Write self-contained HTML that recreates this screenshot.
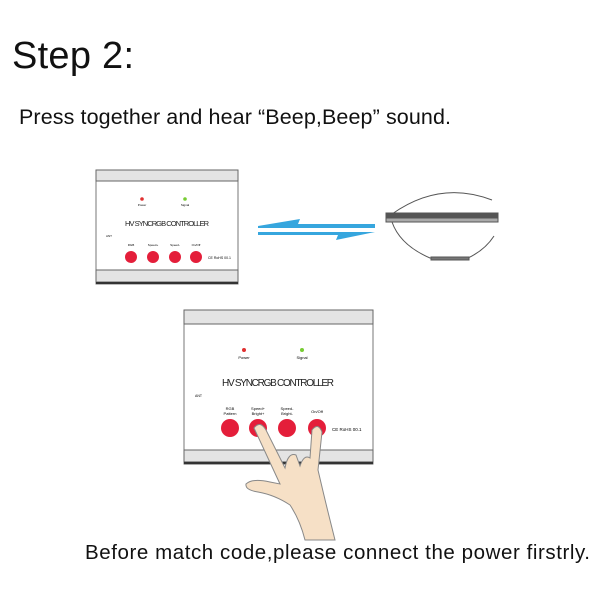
<!DOCTYPE html><html><head><style>body{margin:0;background:#fff}svg{display:block}</style></head><body>
<svg width="600" height="600" viewBox="0 0 600 600" xmlns="http://www.w3.org/2000/svg" font-family="Liberation Sans, sans-serif">
<rect width="600" height="600" fill="#fff"/>
<text x="12" y="68" font-size="38" fill="#111" textLength="122">Step 2:</text>
<text x="19" y="124" font-size="21.5" fill="#111" textLength="432">Press together and hear “Beep,Beep” sound.</text>
<g>
<rect x="96" y="170" width="142" height="114" fill="#fff" stroke="#777" stroke-width="1"/>
<rect x="96" y="170" width="142" height="11" fill="#e4e4e4" stroke="#666"/>
<rect x="96" y="270" width="142" height="12" fill="#e4e4e4" stroke="#666"/>
<line x1="96" y1="283" x2="238" y2="283" stroke="#333" stroke-width="2"/>
<circle cx="142" cy="199" r="1.8" fill="#e03030"/><circle cx="185" cy="199" r="1.8" fill="#7c3"/>
<text x="142" y="206" font-size="3" text-anchor="middle">Power</text><text x="185" y="206" font-size="3" text-anchor="middle">Signal</text>
<text x="125" y="226" font-size="7.5" fill="#222" textLength="84">HV SYNCRGB CONTROLLER</text>
<text x="106" y="237" font-size="3">ANT</text>
<g font-size="3" text-anchor="middle"><text x="131" y="246">RGB</text><text x="153" y="246">Speed+</text><text x="175" y="246">Speed-</text><text x="196" y="246">On/Off</text></g>
<g fill="#e41e3a"><circle cx="131" cy="257" r="6"/><circle cx="153" cy="257" r="6"/><circle cx="175" cy="257" r="6"/><circle cx="196" cy="257" r="6"/></g>
<text x="208" y="259" font-size="3.5">CE RoHS 00.1</text>
</g>
<g fill="#36a6de">
<polygon points="258,226 300,219 298,224 375,224 375,228 258,228"/>
<polygon points="258,232 375,232 336,240 338,235 258,235"/>
</g>
<g stroke="#555" fill="none">
<path d="M392,214 Q440,180 492,200" stroke-width="1"/>
<path d="M392,222 Q400,245 430,258 L468,258 Q485,250 494,236" stroke-width="1"/>
<rect x="386" y="213" width="112" height="5" fill="#555"/>
<rect x="386" y="218" width="112" height="4" fill="#aaa"/>
<rect x="431" y="257" width="38" height="3" fill="#777"/>
</g>
<g>
<rect x="184" y="310" width="189" height="154" fill="#fff" stroke="#777"/>
<rect x="184" y="310" width="189" height="14" fill="#e4e4e4" stroke="#666"/>
<rect x="184" y="450" width="189" height="12" fill="#e4e4e4" stroke="#666"/>
<line x1="184" y1="463" x2="373" y2="463" stroke="#333" stroke-width="2.5"/>
<circle cx="244" cy="350" r="2" fill="#e03030"/><circle cx="302" cy="350" r="2" fill="#7c3"/>
<text x="244" y="359" font-size="4" text-anchor="middle">Power</text><text x="302" y="359" font-size="4" text-anchor="middle">Signal</text>
<text x="222" y="386" font-size="10" fill="#222" textLength="112">HV SYNCRGB CONTROLLER</text>
<text x="195" y="397" font-size="3.5">ANT</text>
<g font-size="4" text-anchor="middle"><text x="230" y="410">RGB</text><text x="230" y="415">Pattern</text><text x="258" y="410">Speed+</text><text x="258" y="415">Bright+</text><text x="287" y="410">Speed-</text><text x="287" y="415">Bright-</text><text x="317" y="413">On/Off</text></g>
<g fill="#e41e3a"><circle cx="230" cy="428" r="9"/><circle cx="258" cy="428" r="9"/><circle cx="287" cy="428" r="9"/><circle cx="317" cy="428" r="9"/></g>
<text x="332" y="431" font-size="4.5">CE RoHS 00.1</text>
</g>
<path d="M254,428 Q260,420 266,430 L285,468 Q288,452 296,455 L300,466 Q304,454 310,458 L312,430 Q318,422 322,432 L318,470 Q325,500 330,520 L335,540 L305,540 Q300,520 290,505 Q275,495 258,492 Q245,490 246,484 Q252,478 270,482 L280,484 Z" fill="#f6e0c6" stroke="#888" stroke-width="1"/>
<text x="85" y="559" font-size="20.5" fill="#111" textLength="505">Before match code,please connect the power firstrly.</text>
</svg>
</body></html>
